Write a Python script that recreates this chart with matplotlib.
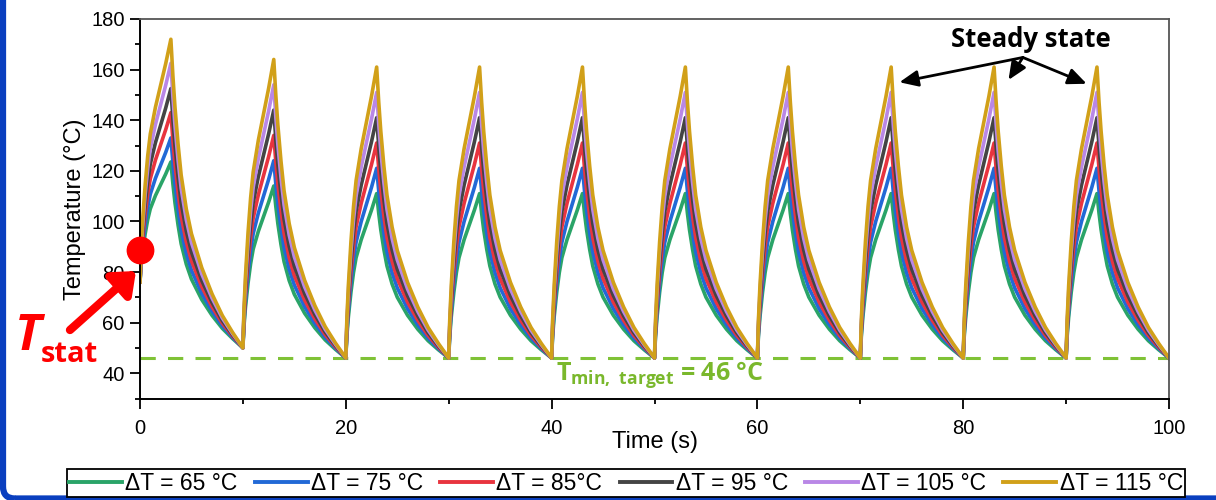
import numpy as np
import matplotlib
matplotlib.use("Agg")
import matplotlib.pyplot as plt
from matplotlib.patches import FancyBboxPatch
from matplotlib.transforms import IdentityTransform
from matplotlib.ticker import MultipleLocator

# cycle timing (s)
CYCLE_S = 10.0
HEAT_S = 3.0
N_CYCLES = 10

# normalised shape of one heating / cooling phase
HEAT_T = [0.0, 0.1, 0.25, 0.5, 0.75, 1.0, 1.5, 2.0, 2.5, 3.0]
HEAT_F = [0.0, 0.13, 0.25, 0.40, 0.52, 0.61, 0.72, 0.81, 0.90, 1.0]
COOL_T = [0.0, 0.2, 0.4, 0.7, 1.0, 1.5, 2.0, 3.0, 4.0, 5.0, 6.0, 7.0]
COOL_F = [1.0, 0.88, 0.78, 0.66, 0.56, 0.45, 0.37, 0.26, 0.175, 0.105, 0.05, 0.0]

# temperature at the start of every cycle (and at the end of the last)
CYCLE_MIN = [76, 50, 46, 46, 46, 46, 46, 46, 46, 46, 46]

labels = ["ΔT = 65 °C", "ΔT = 75 °C", "ΔT = 85°C", "ΔT = 95 °C",
          "ΔT = 105 °C", "ΔT = 115 °C"]
colors = ["#2aa468", "#2269d6", "#e8343f", "#444444", "#b987e6", "#d1a019"]

peak_65 = [123.5, 114, 111, 111, 111, 111, 111, 111, 111, 111]
peak_75 = [133, 124, 121, 121, 121, 121, 121, 121, 121, 121]
peak_85 = [143, 134, 131, 131, 131, 131, 131, 131, 131, 131]
peak_95 = [152.5, 144, 141, 141, 141, 141, 141, 141, 141, 141]
peak_105 = [162.5, 154, 151, 151, 151, 151, 151, 151, 151, 151]
peak_115 = [172, 164, 161, 161, 161, 161, 161, 161, 161, 161]
peaks = [peak_65, peak_75, peak_85, peak_95, peak_105, peak_115]

T_TARGET = 46
T_STAT = 88.5


def build_trace(peak):
    t, T = [], []
    for k in range(N_CYCLES):
        t0 = k * CYCLE_S
        lo, hi, nxt = CYCLE_MIN[k], peak[k], CYCLE_MIN[k + 1]
        t += [t0 + h for h in HEAT_T]
        T += [lo + (hi - lo) * f for f in HEAT_F]
        t += [t0 + HEAT_S + c for c in COOL_T[1:]]
        T += [nxt + (hi - nxt) * f for f in COOL_F[1:]]
    return np.array(t), np.array(T)


plt.rcParams["font.family"] = ["Liberation Sans", "DejaVu Sans"]
plt.rcParams["mathtext.fontset"] = "custom"
plt.rcParams["mathtext.rm"] = "Open Sans:bold"
plt.rcParams["mathtext.bf"] = "Open Sans:bold"

fig = plt.figure(figsize=(12.16, 5.0), dpi=100)
ax = fig.add_axes([140 / 1216, 1 - 398.5 / 500, 1029 / 1216, 379.5 / 500])

ax.axhline(T_TARGET, color="#7fc236", lw=2.2, ls=(0, (5, 4)), zorder=1)

handles = []
for peak, color, label in zip(peaks, colors, labels):
    t, T = build_trace(peak)
    (h,) = ax.plot(t, T, color=color, lw=2.6, label=label, zorder=2)
    handles.append(h)

ax.set_xlim(0, 100)
ax.set_ylim(30, 180)
ax.xaxis.set_major_locator(MultipleLocator(20))
ax.xaxis.set_minor_locator(MultipleLocator(10))
ax.yaxis.set_minor_locator(MultipleLocator(10))
ax.set_yticks([40, 60, 80, 100, 120, 140, 160, 180])
ax.tick_params(which="major", direction="out", length=7, width=1.3,
               labelsize=14.5, pad=4)
ax.tick_params(which="minor", direction="out", length=3.5, width=1.3)
ax.tick_params(axis="x", pad=8)
for side in ("left", "bottom"):
    ax.spines[side].set_linewidth(1.4)
    ax.spines[side].set_color("black")
for side in ("top", "right"):
    ax.spines[side].set_linewidth(1.3)
    ax.spines[side].set_color("#555555")

ax.set_xlabel("Time (s)", fontsize=17, labelpad=-5)
ax.set_ylabel("Temperature (°C)", fontsize=17, labelpad=4)

# T_stat marker and annotation
ax.plot(0, T_STAT, "o", ms=19, color="#ff0000", clip_on=False, zorder=10)
ax.annotate("", xy=(136, 229), xytext=(70, 170), xycoords="figure pixels",
            textcoords="figure pixels", annotation_clip=False,
            arrowprops=dict(arrowstyle="-|>,head_length=0.55,head_width=0.45",
                            lw=6, color="#ff0000", mutation_scale=22,
                            shrinkA=0, shrinkB=0))
fig.text(15 / 1216, 150 / 500, "T", fontsize=36, fontstyle="italic",
         fontweight="bold", color="#ff0000", va="baseline",
         family="Open Sans")
fig.text(41 / 1216, 138 / 500, "stat", fontsize=21, fontweight="bold",
         color="#ff0000", va="baseline", family="Open Sans")

# target line label
ax.text(50.5, 39.6, r"T$_{\mathbf{min,\ target}}$ = 46 °C", fontsize=18,
        fontweight="bold", color="#7ab82c", ha="center", va="center",
        family="Open Sans")

# steady state arrows
tail = (85.8, 164.8)
for tip in [(73.8, 155.0), (84.4, 155.9), (92.0, 154.4)]:
    ax.annotate("", xy=tip, xytext=tail,
                arrowprops=dict(arrowstyle="-|>,head_length=0.8,head_width=0.35",
                                lw=2, color="black", mutation_scale=14,
                                shrinkA=0, shrinkB=0))
ax.text(86.6, 171.8, "Steady state", fontsize=18.5, fontweight="bold",
        ha="center", va="center", family="Open Sans")

leg = fig.legend(handles=handles, loc="lower left",
                 bbox_to_anchor=(67 / 1216, 3 / 500), ncol=6, fontsize=16.5,
                 handlelength=2.3, handletextpad=0.15, columnspacing=0.75,
                 borderpad=0.1, borderaxespad=0, fancybox=False,
                 edgecolor="black", framealpha=1)
leg.get_frame().set_linewidth(1.3)
for line in leg.get_lines():
    line.set_linewidth(2.8)

# slide frame
frame = FancyBboxPatch((3, 1.5), 1300, 600, boxstyle="round,pad=0,rounding_size=12",
                       transform=IdentityTransform(), fill=False,
                       edgecolor="#0a3fbf", lw=4.5)
fig.add_artist(frame)

fig.savefig("out.png", dpi=100)
